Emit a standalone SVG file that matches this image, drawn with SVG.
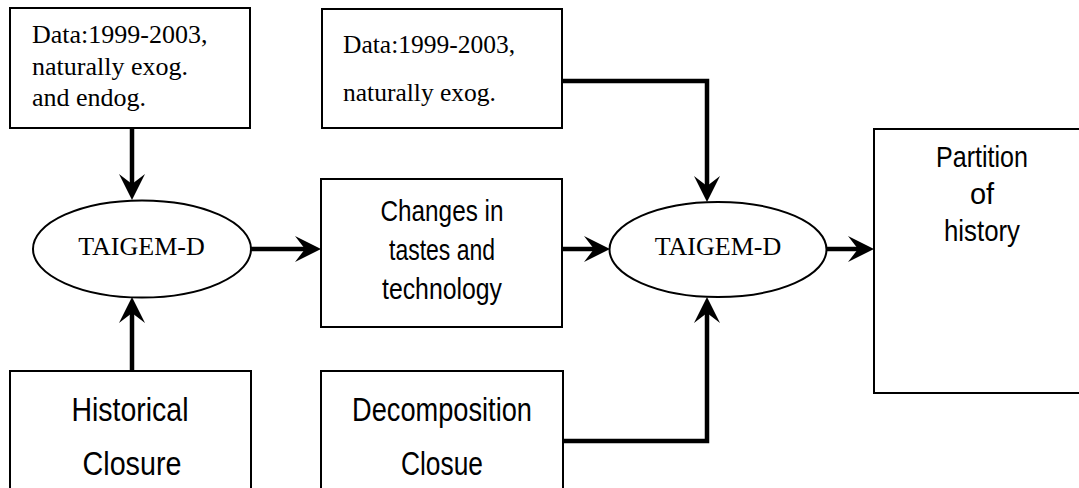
<svg xmlns="http://www.w3.org/2000/svg" width="1079" height="488" viewBox="0 0 1079 488">
<style>
.box{fill:#fff;stroke:#000;stroke-width:2}
.ell{fill:#fff;stroke:#000;stroke-width:2}
.conn{fill:none;stroke:#000;stroke-width:4.5;stroke-linejoin:miter;marker-end:url(#ah)}
.serif{font-family:"Liberation Serif","Times New Roman",serif;font-size:26px;fill:#000}
.sans{font-family:"Liberation Sans",Arial,sans-serif;font-size:29px;fill:#000;text-anchor:middle}
.big{font-size:33px}
</style>
<defs>
<marker id="ah" markerUnits="userSpaceOnUse" markerWidth="32" markerHeight="32" viewBox="-12 -16 32 32" refX="0" refY="0" orient="auto">
<path d="M16,0 L-10,-13 L0,0 L-10,13 Z" fill="#000"/>
</marker>
</defs>
<rect width="1079" height="488" fill="#fff"/>

<g id="data1">
<rect class="box" x="10" y="8" width="240" height="120"/>
<text class="serif" x="32" y="43">Data:1999-2003,</text>
<text class="serif" x="32" y="75">naturally exog.</text>
<text class="serif" x="32" y="106">and endog.</text>
</g>

<g id="data2">
<rect class="box" x="322" y="9" width="240" height="119"/>
<text class="serif" x="343" y="53" style="font-size:25.5px">Data:1999-2003,</text>
<text class="serif" x="343" y="101" style="font-size:25.5px">naturally exog.</text>
</g>

<g id="taigem1">
<ellipse class="ell" cx="142" cy="249" rx="109" ry="48.5"/>
<text class="serif" x="141.5" y="255" text-anchor="middle">TAIGEM-D</text>
</g>

<g id="changes">
<rect class="box" x="321" y="179" width="241" height="148"/>
<text class="sans" x="442" y="221" textLength="123" lengthAdjust="spacingAndGlyphs">Changes in</text>
<text class="sans" x="442" y="260" textLength="106" lengthAdjust="spacingAndGlyphs">tastes and</text>
<text class="sans" x="442" y="299" textLength="120" lengthAdjust="spacingAndGlyphs">technology</text>
</g>

<g id="taigem2">
<ellipse class="ell" cx="718" cy="249.5" rx="108.5" ry="47.5"/>
<text class="serif" x="718" y="255" text-anchor="middle">TAIGEM-D</text>
</g>

<g id="partition">
<rect class="box" x="874" y="129" width="240" height="264"/>
<text class="sans" x="982" y="167" textLength="92" lengthAdjust="spacingAndGlyphs">Partition</text>
<text class="sans" x="982" y="204">of</text>
<text class="sans" x="982" y="241" textLength="76" lengthAdjust="spacingAndGlyphs">history</text>
</g>

<g id="historical">
<rect class="box" x="10" y="371" width="241" height="140"/>
<text class="sans big" x="130" y="421" textLength="117" lengthAdjust="spacingAndGlyphs">Historical</text>
<text class="sans big" x="132" y="475" textLength="99" lengthAdjust="spacingAndGlyphs">Closure</text>
</g>

<g id="decomposition">
<rect class="box" x="321" y="371" width="242" height="140"/>
<text class="sans big" x="442" y="421" textLength="180" lengthAdjust="spacingAndGlyphs">Decomposition</text>
<text class="sans big" x="442" y="475" textLength="82" lengthAdjust="spacingAndGlyphs">Closue</text>
</g>

<g id="connectors">
<path class="conn" d="M132,129 V184"/>
<path class="conn" d="M132,370 V313"/>
<path class="conn" d="M251,249 H305"/>
<path class="conn" d="M562,249 H594"/>
<path class="conn" d="M562,81 H707 V186"/>
<path class="conn" d="M563,441 H707 V313"/>
<path class="conn" d="M827,249 H858"/>
</g>
</svg>
